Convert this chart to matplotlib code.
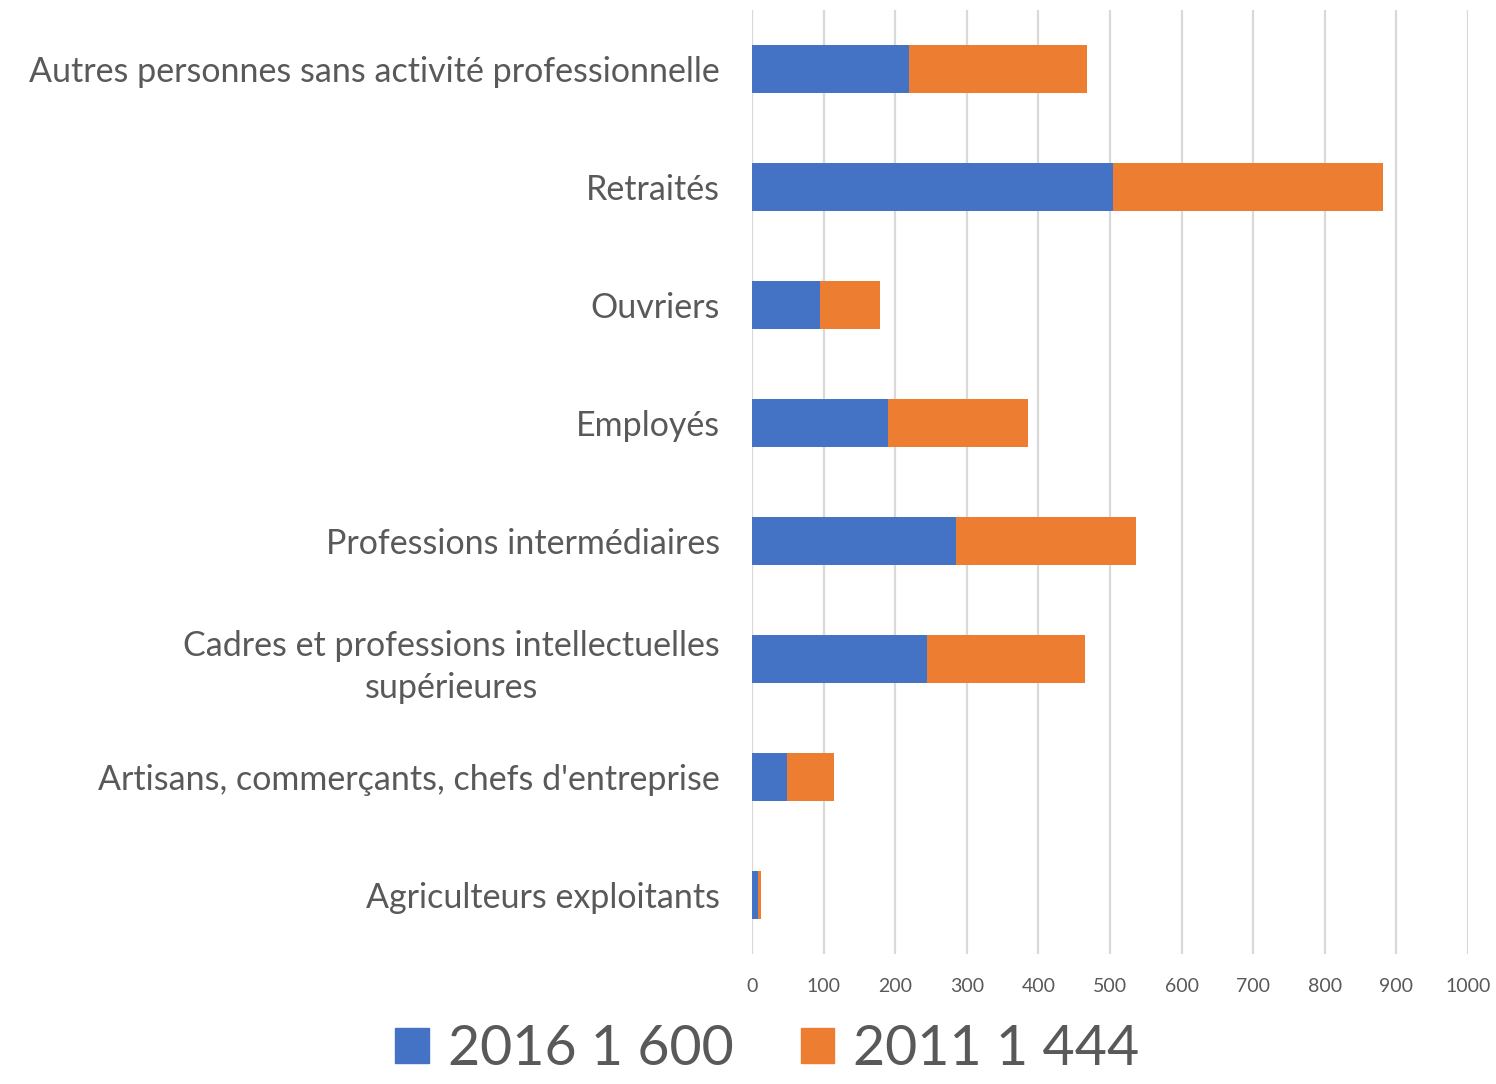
import matplotlib
matplotlib.use("Agg")
import matplotlib.pyplot as plt
from matplotlib.patches import Patch

categories = ["Agriculteurs exploitants",
              "Artisans, commerçants, chefs d'entreprise",
              "Cadres et professions intellectuelles\nsupérieures",
              "Professions intermédiaires",
              "Employés",
              "Ouvriers",
              "Retraités",
              "Autres personnes sans activité professionnelle"]
values_2016 = [9, 49, 244, 285, 190, 95, 504, 219]
values_2011 = [4, 65, 221, 251, 195, 84, 377, 249]
series_labels = ["2016 1 600", "2011 1 444"]
xticks = [0, 100, 200, 300, 400, 500, 600, 700, 800, 900, 1000]

plt.rcParams['font.family'] = ['Lato', 'DejaVu Sans']
text_color = "#595959"
blue = "#4472C4"
orange = "#ED7D31"

fig = plt.figure(figsize=(14.96, 10.84), dpi=100)
ax = fig.add_axes([752/1496, 1-954/1084, (1468-752)/1496, (954-10)/1084])

y = list(range(len(categories)))
ax.barh(y, values_2016, height=0.4, color=blue, zorder=3)
ax.barh(y, values_2011, left=values_2016, height=0.4, color=orange, zorder=3)

ax.set_xlim(0, 1000)
ax.set_ylim(-0.5, len(categories) - 0.5)
ax.set_xticks(xticks)
ax.set_xticklabels([str(t) for t in xticks])
ax.set_yticks(y)
ax.set_yticklabels(categories, multialignment='center', linespacing=1.4)
ax.tick_params(axis='x', length=0, labelsize=14, colors=text_color, pad=17)
ax.tick_params(axis='y', length=0, labelsize=24.5, colors=text_color, pad=23)
ax.grid(axis='x', color="#D9D9D9", linewidth=1.6, zorder=0)
for s in ax.spines.values():
    s.set_visible(False)
for lbl in ax.get_yticklabels():
    if "\n" in lbl.get_text():
        lbl.set_va('center_baseline')

handles = [Patch(color=blue), Patch(color=orange)]
fig.legend(handles, series_labels, loc='lower center', bbox_to_anchor=(0.513, -0.038),
           ncol=2, frameon=False, fontsize=40, labelcolor=text_color,
           handlelength=0.6, handleheight=0.6, handletextpad=0.35, columnspacing=1.2)

fig.savefig("out.png", dpi=100)
